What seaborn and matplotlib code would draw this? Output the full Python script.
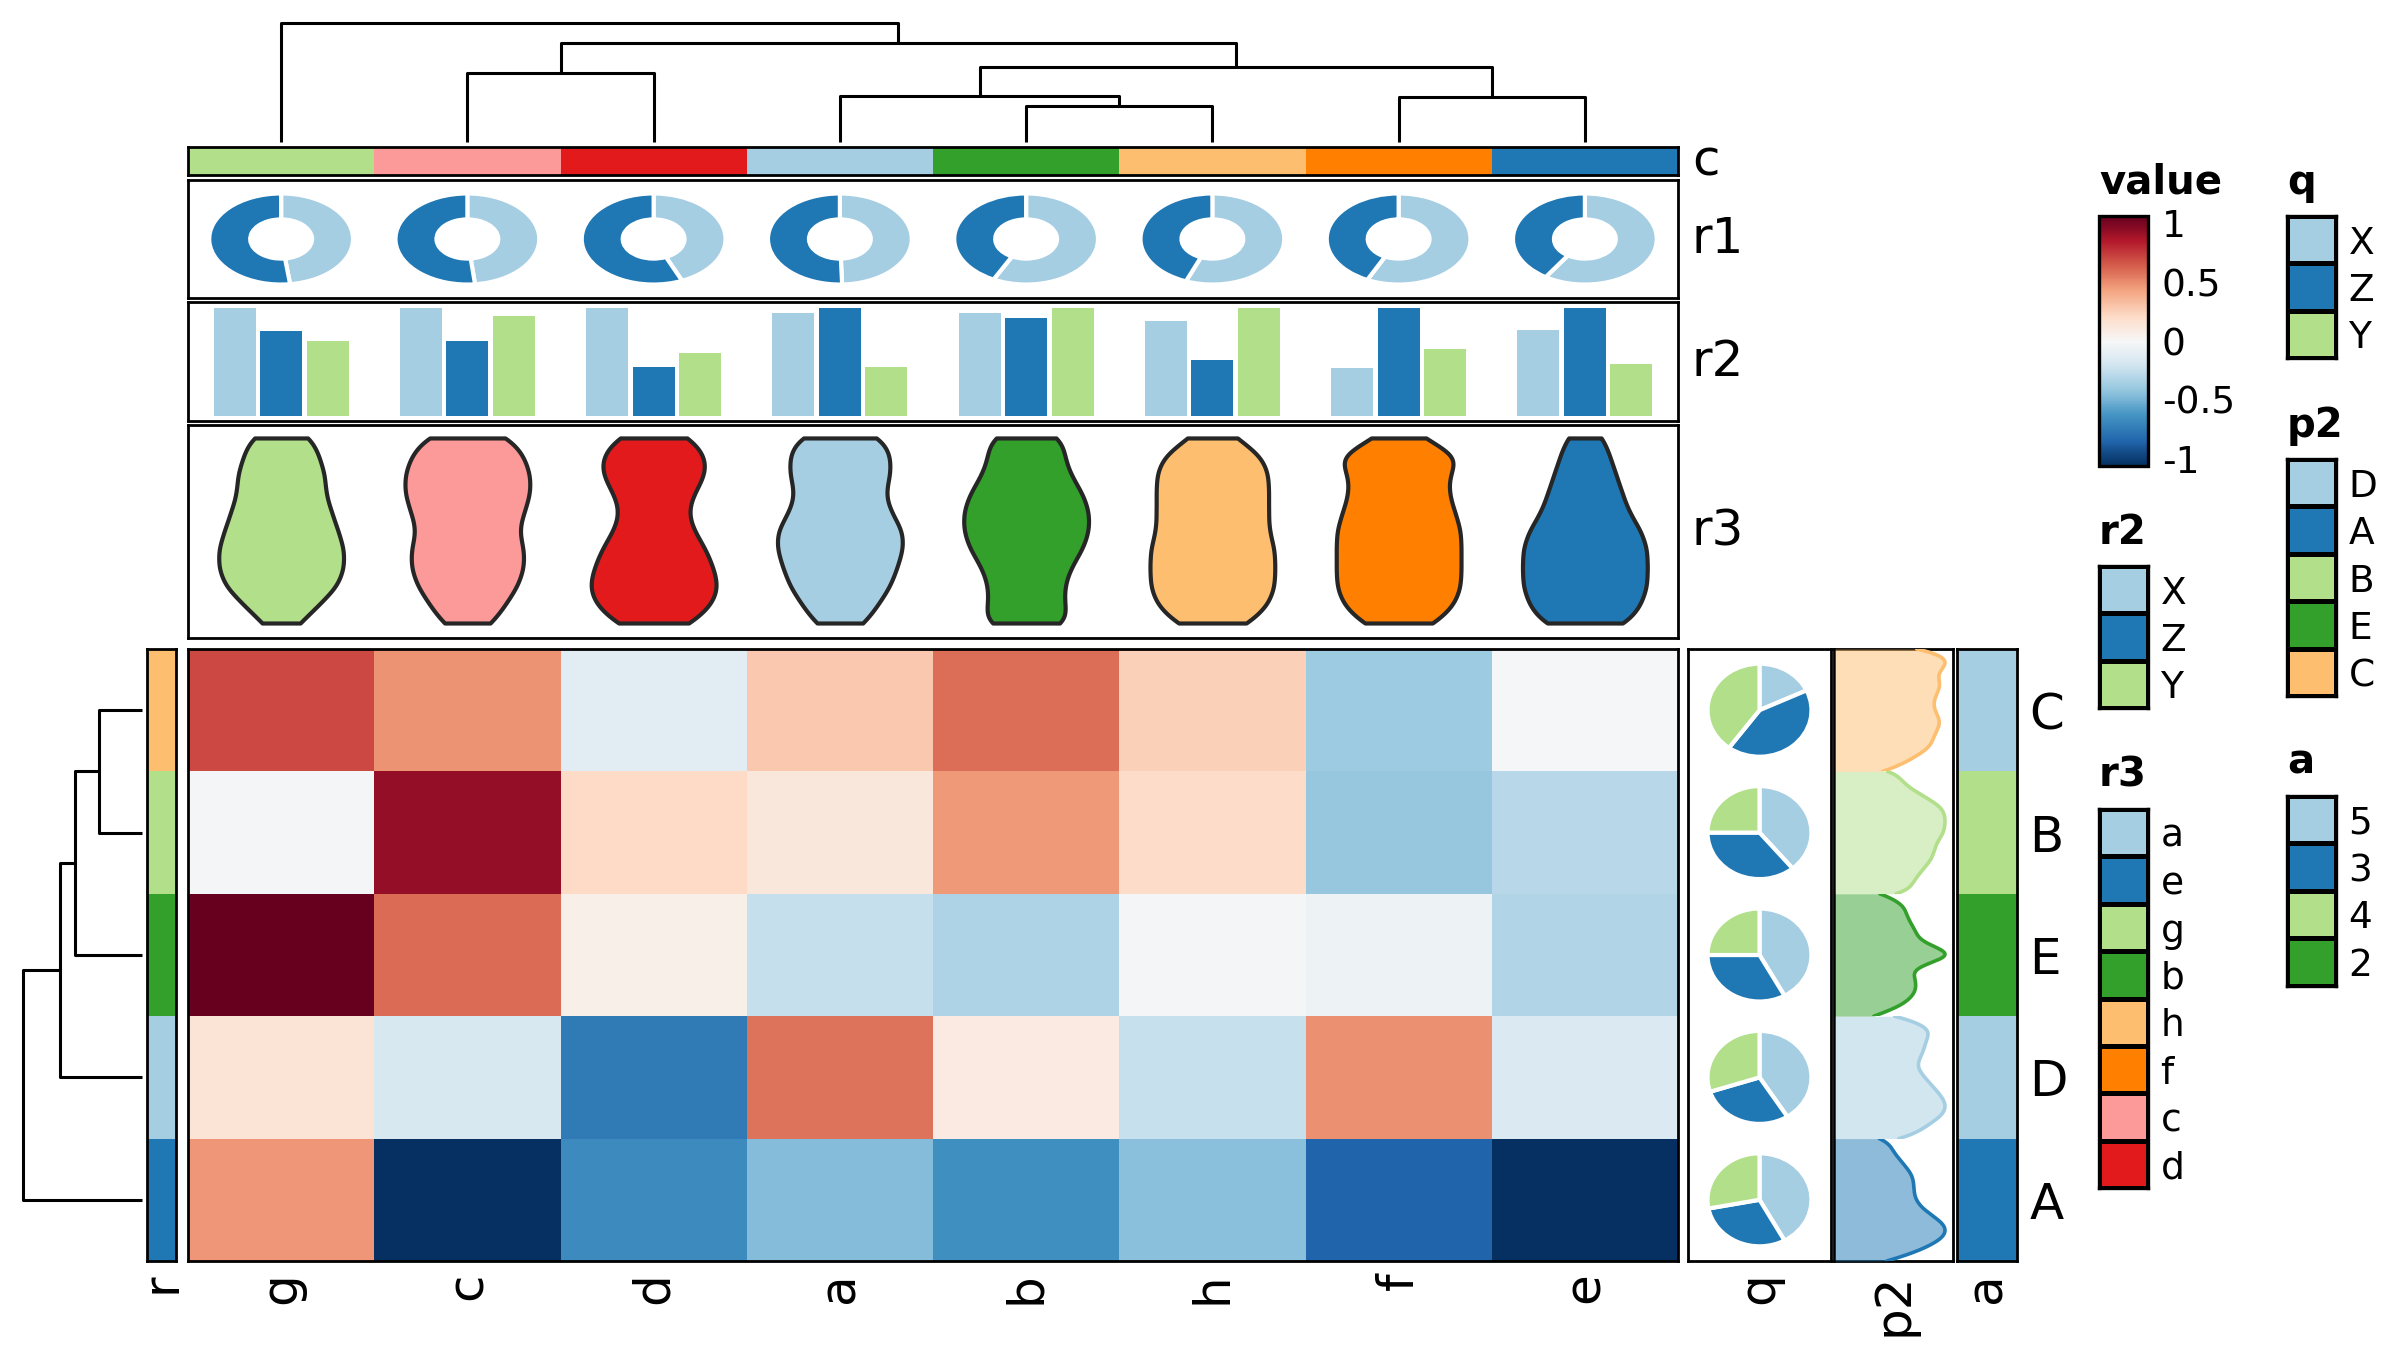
import numpy as np
import pandas as pd
import seaborn as sns
import matplotlib.pyplot as plt
from matplotlib.colors import ListedColormap, Normalize

# ---- data ----
cols = ["g", "c", "d", "a", "b", "h", "f", "e"]
rows = ["C", "B", "E", "D", "A"]

# heatmap values, one list per row (top to bottom)
row_C = [0.66, 0.45, -0.11, 0.27, 0.56, 0.24, -0.36, -0.01]
row_B = [-0.02, 0.88, 0.20, 0.11, 0.43, 0.19, -0.39, -0.28]
row_E = [1.00, 0.57, 0.06, -0.24, -0.31, -0.02, -0.05, -0.30]
row_D = [0.14, -0.17, -0.71, 0.54, 0.09, -0.23, 0.46, -0.15]
row_A = [0.44, -1.00, -0.64, -0.43, -0.61, -0.42, -0.80, -1.00]

# categorical legends
r3_levels = ["a", "e", "g", "b", "h", "f", "c", "d"]
r3_colors = ["#A6CEE3", "#1F78B4", "#B2DF8A", "#33A02C", "#FDBF6F", "#FF7F00", "#FB9A99", "#E31A1C"]
p2_levels = ["D", "A", "B", "E", "C"]
p2_colors = ["#A6CEE3", "#1F78B4", "#B2DF8A", "#33A02C", "#FDBF6F"]
a_levels = ["5", "3", "4", "2"]
a_colors = ["#A6CEE3", "#1F78B4", "#B2DF8A", "#33A02C"]
xzy_levels = ["X", "Z", "Y"]
xzy_colors = ["#A6CEE3", "#1F78B4", "#B2DF8A"]

# row annotation "a"
a_vals = ["5", "4", "2", "5", "3"]

# r1 donuts (share of X and Z per column)
r1_x = [0.48, 0.483, 0.435, 0.495, 0.575, 0.56, 0.572, 0.592]
r1_z = [0.52, 0.517, 0.565, 0.505, 0.425, 0.44, 0.428, 0.408]

# r2 bars
r2_x = [1.0, 1.0, 1.0, 0.954, 0.954, 0.88, 0.444, 0.796]
r2_z = [0.787, 0.694, 0.454, 1.0, 0.907, 0.52, 1.0, 1.0]
r2_y = [0.694, 0.926, 0.583, 0.454, 1.0, 1.0, 0.62, 0.48]

# q pies per row
q_x = [0.18, 0.39, 0.42, 0.41, 0.42]
q_z = [0.42, 0.36, 0.33, 0.29, 0.30]
q_y = [0.40, 0.25, 0.25, 0.30, 0.28]

# histogram counts behind the violins (r3) and the row densities (p2)
levels = [0.0, 0.1, 0.2, 0.3, 0.4, 0.5, 0.6, 0.7, 0.8, 0.9, 1.0]
r3_counts = [
    [3, 6, 9, 10, 10, 9, 8, 7, 7, 6, 5],      # g
    [4, 6, 8, 9, 9, 8, 9, 10, 10, 9, 7],      # c
    [6, 9, 10, 9, 8, 6, 5, 6, 8, 8, 6],       # d
    [4, 6, 8, 9, 10, 10, 8, 7, 8, 8, 7],      # a
    [7, 6, 6, 7, 9, 10, 10, 9, 7, 6, 6],      # b
    [6, 9, 10, 10, 10, 9, 9, 9, 9, 8, 4],     # h
    [6, 9, 10, 10, 10, 10, 9, 8, 8, 10, 4],   # f
    [7, 9, 10, 10, 10, 9, 7, 6, 5, 4, 3],     # e
]
p2_counts = [
    [5, 7, 9, 9, 10, 9, 9, 10, 9, 11, 9],     # C
    [7, 7, 8, 9, 9, 10, 10, 10, 8, 6, 6],     # B
    [4, 7, 8, 8, 7, 13, 8, 8, 7, 7, 5],       # E
    [7, 8, 10, 10, 9, 8, 7, 8, 8, 9, 6],      # D
    [5, 8, 10, 10, 8, 7, 7, 7, 6, 5, 5],      # A
]

# dendrograms: (left, right, height); ints point to earlier merges
col_merges = [("b", "h", 0.30), ("f", "e", 0.38), ("a", 0, 0.39), (2, 1, 0.63),
              ("c", "d", 0.58), (4, 3, 0.83), ("g", 5, 1.0)]
row_merges = [("C", "B", 0.36), (0, "E", 0.56), (1, "D", 0.69), (2, "A", 1.0)]

# ---- figure ----
sns.set_style("white")
plt.rcParams["font.family"] = ["DejaVu Sans"]
plt.rcParams["axes.unicode_minus"] = False
plt.rcParams["text.color"] = "black"
plt.rcParams["axes.labelcolor"] = "black"
plt.rcParams["xtick.color"] = "black"
plt.rcParams["ytick.color"] = "black"

W, H = 2400, 1351
fig = plt.figure(figsize=(12, 6.755), dpi=200)


def panel(x0, x1, y0, y1):
    return fig.add_axes([x0 / W, 1 - y1 / H, (x1 - x0) / W, (y1 - y0) / H])


def border(ax, lw=1.0):
    for s in ax.spines.values():
        s.set_visible(True)
        s.set_color("black")
        s.set_linewidth(lw)


def draw_dendro(ax, merges, order, horizontal=False):
    pos = {n: i + 0.5 for i, n in enumerate(order)}
    hgt = {n: 0.0 for n in order}
    for k, (l, r, h) in enumerate(merges):
        xs = [pos[l], pos[l], pos[r], pos[r]]
        ys = [hgt[l], h, h, hgt[r]]
        if horizontal:
            ax.plot(ys, xs, color="black", lw=1.1, clip_on=False, solid_capstyle="butt")
        else:
            ax.plot(xs, ys, color="black", lw=1.1, clip_on=False, solid_capstyle="butt")
        pos[k] = (pos[l] + pos[r]) / 2
        hgt[k] = h


x_left, x_right = 188, 1678
hm_top, hm_bot = 649, 1261
row_h = (hm_bot - hm_top) / len(rows)

# main heatmap
mat = pd.DataFrame([row_C, row_B, row_E, row_D, row_A], index=rows, columns=cols)
ax_h = panel(x_left, x_right, hm_top, hm_bot)
sns.heatmap(mat, cmap="RdBu_r", vmin=-1, vmax=1, cbar=False, ax=ax_h, yticklabels=False)
ax_h.set_xticklabels(cols, rotation=90, fontsize=18, color="black")
ax_h.tick_params(axis="x", length=0, pad=4)
ax_h.set_xlabel("")
ax_h.set_ylabel("")
border(ax_h)

# column dendrogram
ax_dt = panel(x_left, x_right, 23, 142)
draw_dendro(ax_dt, col_merges, cols)
ax_dt.set_xlim(0, 8)
ax_dt.set_ylim(0, 1)
ax_dt.axis("off")

# row dendrogram
ax_dl = panel(23, 142, hm_top, hm_bot)
draw_dendro(ax_dl, row_merges, rows, horizontal=True)
ax_dl.set_xlim(1, 0)
ax_dl.set_ylim(5, 0)
ax_dl.axis("off")

# c annotation
ax_c = panel(x_left, x_right, 147, 175)
sns.heatmap(np.array([[r3_levels.index(c) for c in cols]]), cmap=ListedColormap(r3_colors),
            vmin=-0.5, vmax=7.5, cbar=False, xticklabels=False, yticklabels=False, ax=ax_c)
border(ax_c)

# r1 donuts
ax_r1 = panel(x_left, x_right, 180, 298)
for i in range(len(cols)):
    ax_r1.pie([r1_x[i], r1_z[i]], colors=xzy_colors[:2], startangle=90, counterclock=False,
              center=(i + 0.5, 0.5), radius=0.386, frame=True,
              wedgeprops=dict(width=0.22, edgecolor="white", linewidth=1.5))
ax_r1.set_aspect("auto")
ax_r1.set_xlim(0, 8)
ax_r1.set_ylim(0, 1)
ax_r1.set_xticks([])
ax_r1.set_yticks([])
border(ax_r1)

# r2 bars
ax_r2 = panel(x_left, x_right, 302, 421)
r2_df = pd.DataFrame({"col": cols * 3,
                      "grp": ["X"] * 8 + ["Z"] * 8 + ["Y"] * 8,
                      "val": r2_x + r2_z + r2_y})
sns.barplot(data=r2_df, x="col", y="val", hue="grp", order=cols, hue_order=xzy_levels,
            palette=xzy_colors, width=0.75, gap=0.1, errorbar=None, saturation=1,
            linewidth=0, legend=False, ax=ax_r2)
ax_r2.set_xlim(-0.5, 7.5)
ax_r2.set_ylim(-0.046, 1.056)
ax_r2.set_xticks([])
ax_r2.set_yticks([])
ax_r2.set_xlabel("")
ax_r2.set_ylabel("")
border(ax_r2)

# r3 violins
ax_r3 = panel(x_left, x_right, 425, 638)
r3_df = pd.concat([pd.DataFrame({"col": c, "v": np.repeat(levels, cnt)})
                   for c, cnt in zip(cols, r3_counts)])
sns.violinplot(data=r3_df, x="col", y="v", hue="col", order=cols,
               palette=dict(zip(r3_levels, r3_colors)), cut=0, inner=None,
               density_norm="width", width=0.67, bw_adjust=0.57, linewidth=1.5,
               linecolor="#262626", saturation=1, legend=False, ax=ax_r3)
ax_r3.set_xlim(-0.5, 7.5)
ax_r3.set_ylim(-0.081, 1.070)
ax_r3.set_xticks([])
ax_r3.set_yticks([])
ax_r3.set_xlabel("")
ax_r3.set_ylabel("")
border(ax_r3)

for ax, name in [(ax_c, "c"), (ax_r1, "r1"), (ax_r2, "r2"), (ax_r3, "r3")]:
    ax.text(1 + 14 / (x_right - x_left), 0.5, name, transform=ax.transAxes,
            ha="left", va="center", fontsize=18, color="black")

# r row annotation
ax_r = panel(147, 176, hm_top, hm_bot)
sns.heatmap(np.array([[p2_levels.index(r)] for r in rows]), cmap=ListedColormap(p2_colors),
            vmin=-0.5, vmax=4.5, cbar=False, xticklabels=["r"], yticklabels=False, ax=ax_r)
ax_r.set_xticklabels(["r"], rotation=90, fontsize=18, color="black")
ax_r.tick_params(axis="x", length=0, pad=4)
border(ax_r)

# q pies
ax_q = panel(1688, 1831, hm_top, hm_bot)
for i in range(len(rows)):
    ax_q.pie([q_x[i], q_z[i], q_y[i]], colors=xzy_colors, startangle=90, counterclock=False,
             center=(0.5, 4.5 - i), radius=0.38, frame=True,
             wedgeprops=dict(edgecolor="white", linewidth=1.5))
ax_q.set_aspect("auto")
ax_q.set_xlim(-0.0225, 1.0225)
ax_q.set_ylim(0, 5)
ax_q.set_yticks([])
ax_q.set_xticks([0.5])
ax_q.set_xticklabels(["q"], rotation=90, fontsize=18, color="black")
ax_q.tick_params(axis="x", length=0, pad=4)
border(ax_q)

# p2 row densities
ax_p2 = panel(1834, 1953, hm_top, hm_bot)
ax_p2.set_xlim(0, 1)
ax_p2.set_yticks([])
ax_p2.set_xticks([0.5])
ax_p2.set_xticklabels(["p2"], rotation=90, fontsize=18, color="black")
ax_p2.tick_params(axis="x", length=0, pad=4)
border(ax_p2)
for i, r in enumerate(rows):
    rc = p2_colors[p2_levels.index(r)]
    s = np.repeat(levels, p2_counts[i])
    axr = panel(1835, 1952, hm_top + i * row_h, hm_top + (i + 1) * row_h)
    axr.patch.set_alpha(0)
    sns.kdeplot(y=s, bw_adjust=0.57, cut=0, fill=True, color=rc, alpha=0.5, linewidth=0, ax=axr)
    sns.kdeplot(y=s, bw_adjust=0.57, cut=0, color=rc, linewidth=1.3, ax=axr)
    axr.set_ylim(0, 1)
    axr.set_xlim(0, axr.lines[0].get_xdata().max() / 0.94)
    axr.axis("off")

# a row annotation with row names
ax_a = panel(1957, 2017, hm_top, hm_bot)
sns.heatmap(np.array([[a_levels.index(v)] for v in a_vals]), cmap=ListedColormap(a_colors),
            vmin=-0.5, vmax=3.5, cbar=False, xticklabels=["a"], yticklabels=rows, ax=ax_a)
ax_a.set_xticklabels(["a"], rotation=90, fontsize=18, color="black")
ax_a.yaxis.tick_right()
ax_a.tick_params(axis="x", length=0, pad=4)
ax_a.tick_params(axis="y", length=0, pad=4.5, labelsize=18, labelrotation=0, labelcolor="black")
border(ax_a)

# ---- legends ----
cax = panel(2099, 2148, 216, 466)
sm = plt.cm.ScalarMappable(norm=Normalize(-1.06, 1.06), cmap="RdBu_r")
cb = fig.colorbar(sm, cax=cax, ticks=[-1, -0.5, 0, 0.5, 1])
cb.set_ticklabels(["-1", "-0.5", "0", "0.5", "1"])
cb.outline.set_linewidth(1.2)
cb.outline.set_edgecolor("black")
cax.tick_params(direction="in", left=True, right=True, length=3, width=1.2,
                labelsize=13.5, pad=5, color="black", labelcolor="black")
cax.set_title("value", loc="left", fontsize=14.5, fontweight="bold", pad=8, color="black")


def cat_legend(x0, y0, labels, colors, title):
    n = len(labels)
    ax = panel(x0, x0 + 49, y0, y0 + 47.4 * n)
    sns.heatmap(np.arange(n)[:, None], cmap=ListedColormap(colors), vmin=-0.5, vmax=n - 0.5,
                cbar=False, linewidths=1.2, linecolor="black", xticklabels=False,
                yticklabels=labels, ax=ax)
    ax.yaxis.tick_right()
    ax.tick_params(axis="y", length=0, pad=4.5, labelsize=13.5, labelrotation=0,
                   labelcolor="black")
    border(ax, 1.2)
    ax.set_title(title, loc="left", fontsize=14.5, fontweight="bold", pad=8, color="black")


cat_legend(2099, 566, xzy_levels, xzy_colors, "r2")
cat_legend(2099, 809, r3_levels, r3_colors, "r3")
cat_legend(2287, 216, xzy_levels, xzy_colors, "q")
cat_legend(2287, 459, p2_levels, p2_colors, "p2")
cat_legend(2287, 796, a_levels, a_colors, "a")

fig.savefig("out.png", dpi=200)
